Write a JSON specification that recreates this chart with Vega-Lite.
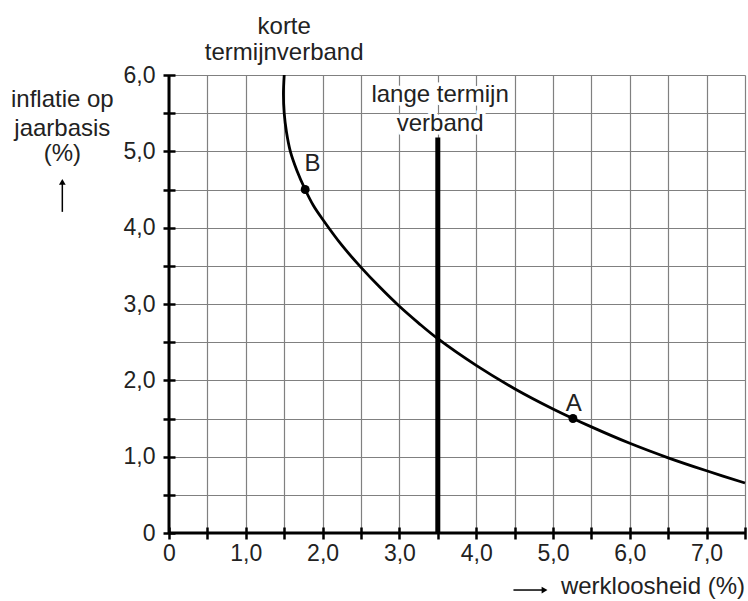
{
  "$schema": "https://vega.github.io/schema/vega-lite/v6.json",
  "width": 576,
  "height": 458,
  "autosize": {"type": "none"},
  "padding": {"left": 169, "top": 75, "right": 3, "bottom": 68},
  "background": "white",
  "config": {
    "view": {"stroke": null},
    "font": "Liberation Sans",
    "text": {"font": "Liberation Sans", "fontSize": 24, "fill": "#222"}
  },
  "datasets": {
    "curve": [
      {"i": 0, "x": 1.50, "y": 6.00},
      {"i": 1, "x": 1.49, "y": 5.75},
      {"i": 2, "x": 1.50, "y": 5.50},
      {"i": 3, "x": 1.53, "y": 5.25},
      {"i": 4, "x": 1.58, "y": 5.00},
      {"i": 5, "x": 1.665, "y": 4.75},
      {"i": 6, "x": 1.773, "y": 4.50},
      {"i": 7, "x": 1.88, "y": 4.29},
      {"i": 8, "x": 2.0, "y": 4.11},
      {"i": 9, "x": 2.25, "y": 3.77},
      {"i": 10, "x": 2.5, "y": 3.48},
      {"i": 11, "x": 2.75, "y": 3.215},
      {"i": 12, "x": 3.0, "y": 2.97},
      {"i": 13, "x": 3.25, "y": 2.75},
      {"i": 14, "x": 3.5, "y": 2.545},
      {"i": 15, "x": 4.0, "y": 2.195},
      {"i": 16, "x": 4.5, "y": 1.89},
      {"i": 17, "x": 5.0, "y": 1.625},
      {"i": 18, "x": 5.5, "y": 1.39},
      {"i": 19, "x": 6.0, "y": 1.175},
      {"i": 20, "x": 6.5, "y": 0.985},
      {"i": 21, "x": 7.0, "y": 0.815},
      {"i": 22, "x": 7.5, "y": 0.655}
    ],
    "points": [
      {"x": 5.26, "y": 1.5, "label": "A", "lx": 5.27, "ly": 1.60},
      {"x": 1.773, "y": 4.5, "label": "B", "lx": 1.87, "ly": 4.74}
    ],
    "centerText": [
      {"x": 1.50, "y": 6.535, "t": "korte"},
      {"x": 1.50, "y": 6.20, "t": "termijnverband"},
      {"x": -1.389, "y": 5.575, "t": "inflatie op"},
      {"x": -1.389, "y": 5.207, "t": "jaarbasis"},
      {"x": -1.389, "y": 4.868, "t": "(%)"}
    ],
    "haloText": [
      {"x": 3.53, "y": 5.65, "t": "lange termijn"},
      {"x": 3.53, "y": 5.26, "t": "verband"}
    ]
  },
  "layer": [
    {
      "data": {"name": "curve"},
      "mark": {"type": "line", "interpolate": "catmull-rom", "color": "black", "strokeWidth": 2.8, "clip": false},
      "encoding": {
        "x": {
          "field": "x", "type": "quantitative",
          "scale": {"domain": [0, 7.5], "nice": false, "zero": false},
          "axis": {
            "title": null,
            "values": [0, 0.5, 1, 1.5, 2, 2.5, 3, 3.5, 4, 4.5, 5, 5.5, 6, 6.5, 7, 7.5],
            "tickCount": 100,
            "labelExpr": "datum.value == 0 ? '0' : (datum.value % 1 == 0 ? replace(format(datum.value, '.1f'), '.', ',') : '')",
            "grid": true, "gridColor": "#808080", "gridWidth": 1.2, "gridOpacity": 1,
            "domain": false, "offset": -6, "tickSize": 12, "tickWidth": 2.5, "tickColor": "black",
            "labelPadding": 3, "labelFontSize": 23, "labelColor": "#222", "labelFont": "Liberation Sans",
            "labelOverlap": false, "labelFlush": false
          }
        },
        "y": {
          "field": "y", "type": "quantitative",
          "scale": {"domain": [0, 6], "nice": false, "zero": false},
          "axis": {
            "title": null,
            "values": [0, 0.5, 1, 1.5, 2, 2.5, 3, 3.5, 4, 4.5, 5, 5.5, 6],
            "tickCount": 100,
            "labelExpr": "datum.value == 0 ? '0' : (datum.value % 1 == 0 ? replace(format(datum.value, '.1f'), '.', ',') : '')",
            "grid": true, "gridColor": "#808080", "gridWidth": 1.2, "gridOpacity": 1,
            "domain": false, "offset": -6, "tickSize": 12, "tickWidth": 2.5, "tickColor": "black",
            "labelPadding": 8, "labelFontSize": 23, "labelColor": "#222", "labelFont": "Liberation Sans",
            "labelOverlap": false, "labelFlush": false
          }
        },
        "order": {"field": "i", "type": "quantitative"}
      }
    },
    {
      "data": {"values": [{}]},
      "mark": {"type": "rule", "color": "black", "strokeWidth": 3},
      "encoding": {"x": {"datum": 0}, "y": {"datum": 0}, "y2": {"datum": 6}}
    },
    {
      "data": {"values": [{}]},
      "mark": {"type": "rule", "color": "black", "strokeWidth": 3},
      "encoding": {"y": {"datum": 0}, "x": {"datum": 0}, "x2": {"datum": 7.5}}
    },
    {
      "data": {"values": [{}]},
      "mark": {"type": "rule", "color": "black", "strokeWidth": 5},
      "encoding": {"x": {"datum": 3.5}, "y": {"datum": 0}, "y2": {"datum": 5.18}}
    },
    {
      "data": {"name": "points"},
      "mark": {"type": "point", "filled": true, "color": "black", "size": 80, "opacity": 1},
      "encoding": {"x": {"field": "x", "type": "quantitative"}, "y": {"field": "y", "type": "quantitative"}}
    },
    {
      "data": {"name": "points"},
      "mark": {"type": "text", "align": "center", "baseline": "alphabetic", "fontSize": 24},
      "encoding": {"x": {"field": "lx", "type": "quantitative"}, "y": {"field": "ly", "type": "quantitative"}, "text": {"field": "label"}}
    },
    {
      "data": {"name": "centerText"},
      "mark": {"type": "text", "align": "center", "baseline": "alphabetic", "fontSize": 24, "clip": false},
      "encoding": {"x": {"field": "x", "type": "quantitative"}, "y": {"field": "y", "type": "quantitative"}, "text": {"field": "t"}}
    },
    {
      "data": {"name": "haloText"},
      "mark": {"type": "text", "align": "center", "baseline": "alphabetic", "fontSize": 24, "stroke": "white", "strokeWidth": 7, "fill": "white"},
      "encoding": {"x": {"field": "x", "type": "quantitative"}, "y": {"field": "y", "type": "quantitative"}, "text": {"field": "t"}}
    },
    {
      "data": {"name": "haloText"},
      "mark": {"type": "text", "align": "center", "baseline": "alphabetic", "fontSize": 24},
      "encoding": {"x": {"field": "x", "type": "quantitative"}, "y": {"field": "y", "type": "quantitative"}, "text": {"field": "t"}}
    },
    {
      "data": {"values": [{}]},
      "mark": {"type": "rule", "color": "black", "strokeWidth": 1.5},
      "encoding": {"x": {"datum": -1.389}, "y": {"datum": 4.207}, "y2": {"datum": 4.58}}
    },
    {
      "data": {"values": [{}]},
      "mark": {"type": "point", "shape": "triangle-up", "filled": true, "color": "black", "size": 45, "opacity": 1},
      "encoding": {"x": {"datum": -1.389}, "y": {"datum": 4.6}}
    },
    {
      "data": {"values": [{}]},
      "mark": {"type": "rule", "color": "black", "strokeWidth": 1.5},
      "encoding": {"y": {"datum": -0.747}, "x": {"datum": 4.485}, "x2": {"datum": 4.87}}
    },
    {
      "data": {"values": [{}]},
      "mark": {"type": "point", "shape": "triangle-right", "filled": true, "color": "black", "size": 45, "opacity": 1},
      "encoding": {"y": {"datum": -0.747}, "x": {"datum": 4.89}}
    },
    {
      "data": {"values": [{}]},
      "mark": {"type": "text", "align": "right", "baseline": "alphabetic", "fontSize": 24, "text": "werkloosheid (%)"},
      "encoding": {"x": {"datum": 7.5}, "y": {"datum": -0.80}}
    }
  ]
}
